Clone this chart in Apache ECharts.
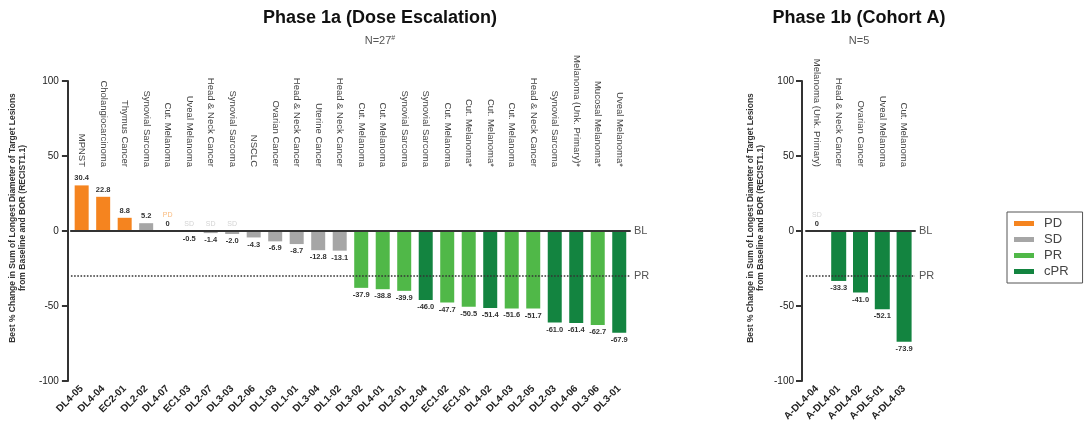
<!DOCTYPE html>
<html>
<head>
<meta charset="utf-8">
<script src="https://cdn.jsdelivr.net/npm/echarts@6/dist/echarts.min.js"></script>
<style>
html,body{margin:0;padding:0;background:#fff;}
#chart{width:1088px;height:437px;}
</style>
</head>
<body>
<div id="chart"></div>
<script>
// ---------- DATA ----------
const ids1a = ['DL4-05','DL4-04','EC2-01','DL2-02','DL4-07','EC1-03','DL2-07','DL3-03','DL2-06','DL1-03','DL1-01','DL3-04','DL1-02',
  'DL3-02','DL4-01','DL2-01','DL2-04','EC1-02','EC1-01','DL4-02','DL4-03','DL2-05','DL2-03','DL4-06','DL3-06','DL3-01'];
const names1a = ['MPNST','Cholangiocarcinoma','Thymus Cancer','Synovial Sarcoma','Cut. Melanoma','Uveal Melanoma','Head & Neck Cancer',
  'Synovial Sarcoma','NSCLC','Ovarian Cancer','Head & Neck Cancer','Uterine Cancer','Head & Neck Cancer',
  'Cut. Melanoma','Cut. Melanoma','Synovial Sarcoma','Synovial Sarcoma','Cut. Melanoma','Cut. Melanoma*','Cut. Melanoma*',
  'Cut. Melanoma','Head & Neck Cancer','Synovial Sarcoma','Melanoma (Unk. Primary)*','Mucosal Melanoma*','Uveal Melanoma*'];
const values1a = [30.4, 22.8, 8.8, 5.2, 0, -0.5, -1.4, -2.0, -4.3, -6.9, -8.7, -12.8, -13.1,
  -37.9, -38.8, -39.9, -46.0, -47.7, -50.5, -51.4, -51.6, -51.7, -61.0, -61.4, -62.7, -67.9];
const resp1a = ['PD','PD','PD','SD','PD','SD','SD','SD','SD','SD','SD','SD','SD',
  'PR','PR','PR','cPR','PR','PR','cPR','PR','PR','cPR','cPR','PR','cPR'];

const ids1b = ['A-DL4-04','A-DL4-01','A-DL4-02','A-DL5-01','A-DL4-03'];
const names1b = ['Melanoma (Unk. Primary)','Head & Neck Cancer','Ovarian Cancer','Uveal Melanoma','Cut. Melanoma'];
const values1b = [0, -33.3, -41.0, -52.1, -73.9];
const resp1b = ['SD','cPR','cPR','cPR','cPR'];

const responseTypes = ['PD','SD','PR','cPR'];
const yTicks = [-100, -50, 0, 50, 100];
const prThreshold = -30;
const titles = ['Phase 1a (Dose Escalation)', 'Phase 1b (Cohort A)'];
const subtitles = ['N=27{sup|#}', 'N=5'];
const yTitle = 'Best % Change in Sum of Longest Diameter of Target Lesions\nfrom Baseline and BOR (RECIST1.1)';

// ---------- STYLE ----------
const colors = {PD:'#F5841F', SD:'#A6A6A6', PR:'#50B848', cPR:'#138440'};
const noteColors = {PD:'#F7A85A', SD:'#C8C8C8'};
const FONT = 'Liberation Sans, Arial, sans-serif';

function fmt(v){ return v === 0 ? '0' : v.toFixed(1); }

function panelSeries(p, vals, resp, barWidth){
  const out = [];
  responseTypes.forEach(function(rt, k){
    const s = {
      name: rt, type: 'bar', stack: 'p' + p, xAxisIndex: p*2, yAxisIndex: p,
      barWidth: barWidth, itemStyle: {color: colors[rt]},
      label: {show: true, fontSize: 7.5, fontWeight: 'bold', color: '#333', fontFamily: FONT, distance: 3,
        formatter: function(pr){ return fmt(pr.value); }},
      data: vals.map(function(v, i){
        if (resp[i] !== rt) return '-';
        return {value: v, label: {position: v >= 0 ? 'top' : 'bottom'}};
      })
    };
    if (k === 0) {
      s.markLine = {
        silent: true, symbol: 'none', animation: false,
        label: {position: 'end', color: '#555', fontSize: 11, fontFamily: FONT, distance: 4},
        data: [
          {yAxis: 0, lineStyle: {type: 'solid', color: '#333', width: 2}, label: {formatter: 'BL'}},
          {yAxis: prThreshold, lineStyle: {type: 'dotted', color: '#333', width: 1.6}, label: {formatter: 'PR'}}
        ]
      };
    }
    out.push(s);
  });
  // small status notes for bars too short to see
  out.push({
    name: 'notes' + p, type: 'scatter', xAxisIndex: p*2, yAxisIndex: p, symbolSize: 0, silent: true,
    data: vals.map(function(v, i){
      if (Math.abs(v) >= 3 || v > 0) return '-';
      return {value: 0, label: {show: true, position: 'top', distance: v === 0 ? 12 : 3,
        formatter: resp[i], color: noteColors[resp[i]] || '#C8C8C8', fontSize: 7, fontFamily: FONT}};
    })
  });
  return out;
}

const grids = [
  {left: 70, top: 81, width: 560, height: 300},
  {left: 806, top: 81, width: 109, height: 300}
];

function xAxes(p, ids, names){
  return [
    {gridIndex: p, type: 'category', data: ids, position: 'bottom',
      axisLine: {lineStyle: {color: '#333', width: 2}},
      axisTick: {alignWithLabel: true, length: 6, lineStyle: {width: 2, color: '#333'}},
      axisLabel: {interval: 0, rotate: 45, fontSize: 10, fontWeight: 'bold', color: '#222', fontFamily: FONT, margin: 6}},
    {gridIndex: p, type: 'category', data: names, position: 'top', offset: -88,
      axisLine: {show: false}, axisTick: {show: false},
      axisLabel: {interval: 0, rotate: 90, fontSize: 9.5, color: '#444', fontFamily: FONT, margin: 2}}
  ];
}

function yAxis(p, off, labelMargin){
  return {gridIndex: p, type: 'value', min: yTicks[0], max: yTicks[yTicks.length-1], interval: 50, offset: off,
    splitLine: {show: false},
    axisLine: {show: true, lineStyle: {color: '#333', width: 2}},
    axisTick: {show: true, length: 6, lineStyle: {width: 2, color: '#333'}},
    axisLabel: {fontSize: 10, color: '#222', fontFamily: FONT, margin: labelMargin},
    name: yTitle, nameLocation: 'middle', nameRotate: 90, nameGap: 36,
    nameTextStyle: {fontSize: 8.5, fontWeight: 'bold', color: '#333', fontFamily: FONT, lineHeight: 10, padding: [0, 0, 0, 26]}
  };
}

const option = {
  animation: false,
  backgroundColor: '#fff',
  title: [
    {text: titles[0], subtext: subtitles[0], left: 380, top: 9, textAlign: 'center', padding: 0, itemGap: 8,
      textStyle: {fontSize: 18, fontWeight: 'bold', color: '#111', fontFamily: FONT},
      subtextStyle: {fontSize: 11, color: '#555', fontFamily: FONT, rich: {sup: {fontSize: 7, color: '#555', verticalAlign: 'top', padding: [0,0,5,0]}}}},
    {text: titles[1], subtext: subtitles[1], left: 859, top: 9, textAlign: 'center', padding: 0, itemGap: 8,
      textStyle: {fontSize: 18, fontWeight: 'bold', color: '#111', fontFamily: FONT},
      subtextStyle: {fontSize: 11, color: '#555', fontFamily: FONT}}
  ],
  legend: {
    data: responseTypes, orient: 'vertical', left: 1007, top: 212,
    icon: 'rect', itemWidth: 20, itemHeight: 5, itemGap: 3,
    borderColor: '#555', borderWidth: 1, padding: [5, 14, 5, 7],
    textStyle: {fontSize: 13, color: '#444', fontFamily: FONT, padding: [0, 0, 0, 5]}
  },
  grid: grids,
  xAxis: xAxes(0, ids1a, names1a).concat(xAxes(1, ids1b, names1b)),
  yAxis: [yAxis(0, 3, 9), yAxis(1, 4, 8)],
  series: panelSeries(0, values1a, resp1a, 14).concat(panelSeries(1, values1b, resp1b, 15))
};

const chart = echarts.init(document.getElementById('chart'));
chart.setOption(option);
</script>
</body>
</html>
